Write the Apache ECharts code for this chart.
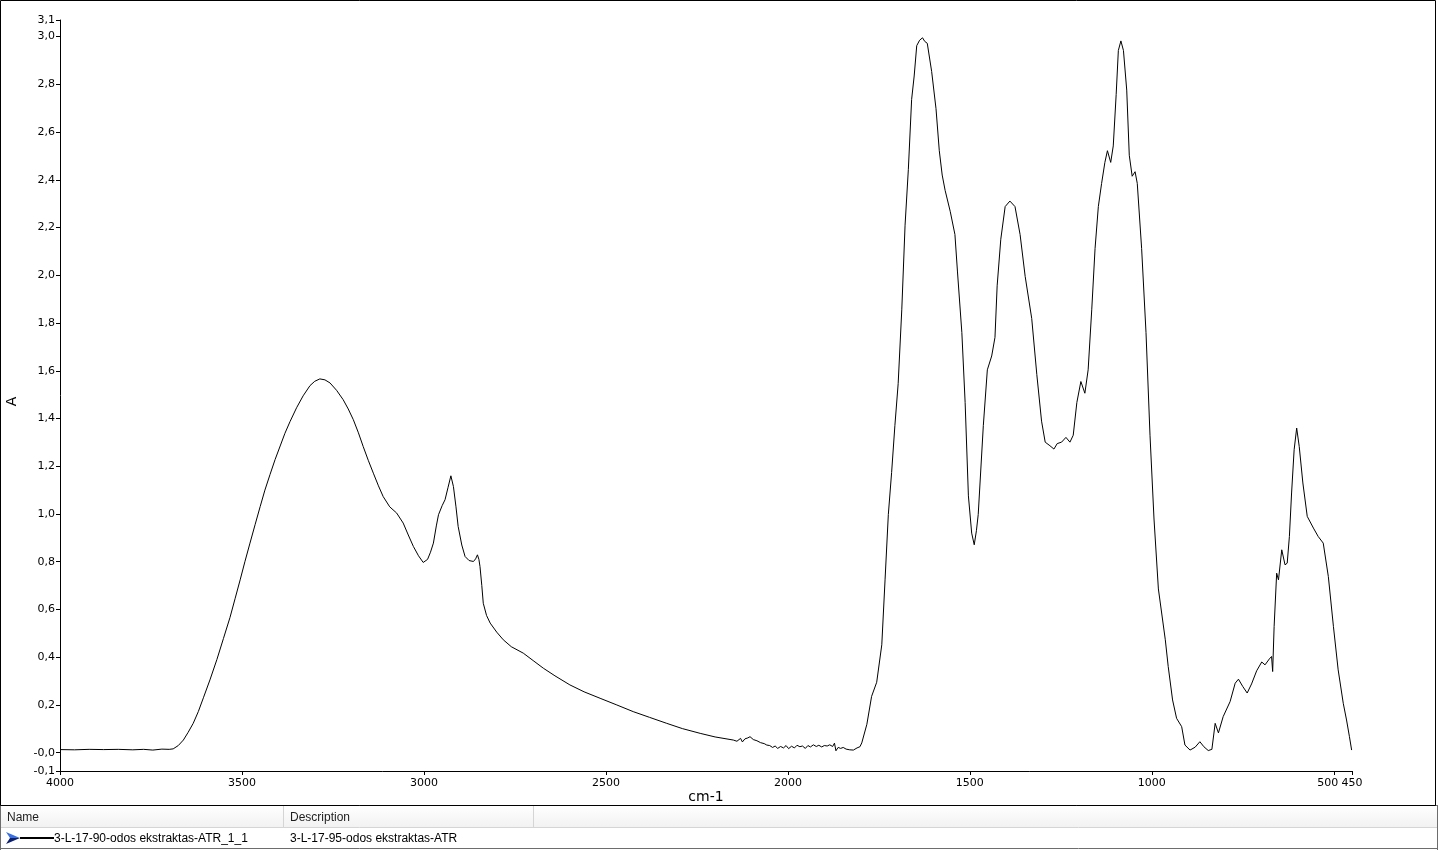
<!DOCTYPE html>
<html>
<head>
<meta charset="utf-8">
<script src="https://cdn.jsdelivr.net/npm/echarts@6/dist/echarts.min.js"></script>
<style>
html,body{margin:0;padding:0;background:#fff;}
#chart{width:1438px;height:850px;}
</style>
</head>
<body>
<div id="chart"></div>
<script>
// ---- data ----
const wavenumbers = [
4000,3960,3920,3880,3840,3800,3770,3745,3720,3700,3689,3675,3661,3648,3634,3620,3606,3588,3569,3551,
3533,3519,3505,3492,3478,3464,3450,3437,3423,3409,3395,3382,3368,3350,3332,3313,3300,3286,3272,3258,3240,
3222,3208,3194,3180,3167,3153,3139,3125,3112,3094,3075,3057,3043,3029,3015,3002,2990,2982,2974,2966,
2960,2950,2942,2934,2926,2919,2912,2906,2896,2887,2876,2864,2858,2853,2849,2846,2841,2837,2828,2818,
2800,2782,2760,2727,2700,2672,2640,2599,2560,2516,2470,2425,2380,2333,2290,2241,2200,
2150,2140,2130,2125,2118,2110,2104,2095,2085,2075,2065,2058,2050,2042,2035,2028,2020,2012,2005,1998,
1990,1982,1975,1967,1960,1952,1945,1938,1930,1922,1915,1907,1900,1892,1885,1877,1872,1868,1862,1855,
1848,1840,1830,1820,1810,1802,
1797,1783,1770,1756,1742,1733,1724,1715,1706,1697,1687,1678,1669,1660,1653,1646,1638,1630,1624,1617,
1605,1593,1584,1576,1568,1554,1541,1534,1522,1513,1504,1495,1488,1482,1477,1463,1452,1440,1431,1425,
1415,1403,1390,1376,1362,1348,1330,1316,1303,1293,1280,1269,1260,1248,1236,1225,1216,1206,1195,1184,
1175,1165,1156,1147,1138,1129,1122,1113,1106,1098,1092,1085,1078,1069,1062,1054,1046,1040,1028,1016,
1005,994,982,963,955,943,932,918,909,895,881,868,857,845,835,826,817,804,785,771,
762,750,738,726,712,698,689,677,671,668,664,657,652,643,634,628,622,616,609,602,
595,585,573,556,543,529,515,501,488,474,465,457,451
];
const absorbance = [
0.013,0.012,0.014,0.013,0.014,0.012,0.014,0.011,0.015,0.014,0.016,0.030,0.053,0.085,0.123,0.172,0.230,0.305,0.390,0.478,
0.566,0.645,0.724,0.800,0.878,0.955,1.031,1.100,1.165,1.228,1.285,1.338,1.387,1.445,1.495,1.538,1.556,1.566,1.562,1.549,1.518,
1.479,1.440,1.395,1.340,1.283,1.225,1.171,1.118,1.073,1.030,1.004,0.962,0.912,0.864,0.825,0.797,0.810,0.840,0.878,0.950,
0.997,1.035,1.060,1.110,1.160,1.115,1.030,0.948,0.870,0.822,0.805,0.801,0.812,0.829,0.810,0.780,0.700,0.626,0.575,0.543,
0.505,0.473,0.444,0.417,0.386,0.354,0.322,0.284,0.255,0.228,0.200,0.172,0.148,0.123,0.101,0.081,0.066,
0.053,0.048,0.060,0.045,0.058,0.062,0.067,0.055,0.050,0.042,0.038,0.032,0.030,0.022,0.028,0.018,0.026,0.020,0.030,0.017,
0.027,0.020,0.031,0.025,0.028,0.018,0.030,0.024,0.033,0.026,0.031,0.024,0.030,0.028,0.033,0.026,0.040,0.008,0.022,0.018,
0.022,0.015,0.012,0.011,0.020,0.025,
0.041,0.119,0.236,0.295,0.452,0.724,0.998,1.174,1.370,1.546,1.858,2.210,2.444,2.737,2.835,2.962,2.985,2.995,2.980,2.972,
2.854,2.698,2.522,2.420,2.356,2.268,2.171,2.014,1.760,1.467,1.076,0.920,0.871,0.930,0.998,1.370,1.604,1.662,1.740,1.956,
2.151,2.288,2.311,2.288,2.171,1.995,1.819,1.584,1.389,1.301,1.286,1.272,1.295,1.301,1.321,1.301,1.330,1.467,1.555,1.506,
1.604,1.858,2.112,2.288,2.385,2.473,2.522,2.473,2.542,2.757,2.942,2.982,2.942,2.776,2.503,2.415,2.434,2.385,2.112,1.760,
1.330,0.979,0.686,0.473,0.361,0.221,0.144,0.109,0.032,0.011,0.023,0.046,0.025,0.009,0.014,0.123,0.083,0.151,0.214,0.291,
0.308,0.277,0.250,0.288,0.343,0.380,0.368,0.393,0.403,0.340,0.528,0.752,0.724,0.850,0.787,0.794,0.906,1.088,1.269,1.360,
1.283,1.130,0.990,0.941,0.906,0.878,0.738,0.528,0.347,0.207,0.137,0.067,0.011
];
const xTickValues = [4000,3500,3000,2500,2000,1500,1000,500,450];
const xTickLabels = ['4000','3500','3000','2500','2000','1500','1000','500','450'];
const yTickValues = [-0.0767,0,0.2,0.4,0.6,0.8,1.0,1.2,1.4,1.6,1.8,2.0,2.2,2.4,2.6,2.8,3.0,3.0696];
const yTickLabels = ['-0,1','-0,0','0,2','0,4','0,6','0,8','1,0','1,2','1,4','1,6','1,8','2,0','2,2','2,4','2,6','2,8','3,0','3,1'];
const xAxisName = 'cm-1';
const yAxisName = 'A';
const tableHeaders = ['Name','Description'];
const seriesName = '3-L-17-90-odos ekstraktas-ATR_1_1';
const seriesDescription = '3-L-17-95-odos ekstraktas-ATR';

const points = wavenumbers.map((w,i)=>[w, absorbance[i]]);

function labelFor(values, labels, v){
  let best = 0, bd = Infinity;
  values.forEach((t,i)=>{ const d = Math.abs(t - v); if (d < bd){ bd = d; best = i; } });
  return labels[best];
}

const chart = echarts.init(document.getElementById('chart'), null, {renderer:'canvas'});
const axisFont = 'DejaVu Sans';
chart.setOption({
  animation:false,
  backgroundColor:'#fff',
  grid:{left:60, right:86, top:20, bottom:79, containLabel:false, outerBoundsMode:'none'},
  xAxis:{
    type:'value', inverse:true,
    min:xTickValues[xTickValues.length-1], max:xTickValues[0],
    name:xAxisName, nameLocation:'middle', nameGap:19, nameMoveOverlap:false,
    nameTextStyle:{fontFamily:axisFont, fontSize:14, color:'#000', verticalAlign:'top'},
    axisLine:{show:true, onZero:false, lineStyle:{color:'#000', width:1}},
    axisTick:{show:true, inside:false, length:4, customValues:xTickValues, lineStyle:{color:'#000'}},
    axisLabel:{
      customValues:xTickValues, margin:7,
      fontFamily:axisFont, fontSize:11, color:'#000',
      formatter:function(v){
        const s = labelFor(xTickValues, xTickLabels, v);
        return s === '500' ? '{s|' + s + '}' : s;
      },
      rich:{s:{fontFamily:axisFont, fontSize:11, color:'#000', padding:[0,12,0,0]}}
    },
    splitLine:{show:false}
  },
  yAxis:{
    type:'value',
    min:yTickValues[0], max:yTickValues[yTickValues.length-1],
    name:yAxisName, nameLocation:'middle', nameGap:41, nameRotate:90,
    nameTextStyle:{fontFamily:axisFont, fontSize:14, color:'#000', padding:[0,12,0,0]},
    axisLine:{show:true, onZero:false, lineStyle:{color:'#000', width:1}},
    axisTick:{show:true, inside:false, length:4, customValues:yTickValues, lineStyle:{color:'#000'}},
    axisLabel:{
      customValues:yTickValues, margin:5,
      fontFamily:axisFont, fontSize:11, color:'#000',
      formatter:function(v){ return labelFor(yTickValues, yTickLabels, v); }
    },
    splitLine:{show:false}
  },
  series:[{
    type:'line', name:seriesName, data:points,
    showSymbol:false, symbol:'none', smooth:false,
    lineStyle:{color:'#000', width:1}, clip:true
  }],
  graphic:[
    {type:'rect', shape:{x:0.5, y:0.5, width:1435, height:805}, style:{fill:'none', stroke:'#000', lineWidth:1}, z:10},
    {type:'rect', shape:{x:0, y:806, width:1438, height:22},
      style:{fill:new echarts.graphic.LinearGradient(0,0,0,1,[{offset:0,color:'#ffffff'},{offset:1,color:'#f1f1f1'}])}},
    {type:'line', shape:{x1:0, y1:805.5, x2:1438, y2:805.5}, style:{stroke:'#6d6d6d', lineWidth:1}},
    {type:'line', shape:{x1:0, y1:827.5, x2:1438, y2:827.5}, style:{stroke:'#d5d5d5', lineWidth:1}},
    {type:'line', shape:{x1:0, y1:848.5, x2:1438, y2:848.5}, style:{stroke:'#6d6d6d', lineWidth:1}},
    {type:'line', shape:{x1:0.5, y1:805, x2:0.5, y2:850}, style:{stroke:'#6d6d6d', lineWidth:1}},
    {type:'line', shape:{x1:1437.5, y1:805, x2:1437.5, y2:850}, style:{stroke:'#6d6d6d', lineWidth:1}},
    {type:'line', shape:{x1:283.5, y1:806, x2:283.5, y2:827}, style:{stroke:'#d5d5d5', lineWidth:1}},
    {type:'line', shape:{x1:533.5, y1:806, x2:533.5, y2:827}, style:{stroke:'#d5d5d5', lineWidth:1}},
    {type:'text', x:7, y:818, style:{text:tableHeaders[0], fontFamily:'Liberation Sans', fontSize:12, fill:'#1e1e1e', verticalAlign:'middle'}},
    {type:'text', x:290, y:818, style:{text:tableHeaders[1], fontFamily:'Liberation Sans', fontSize:12, fill:'#1e1e1e', verticalAlign:'middle'}},
    {type:'polygon', shape:{points:[[6,832],[20,838],[10,838]]}, style:{fill:'#3a6ee0'}},
    {type:'polygon', shape:{points:[[10,838],[20,838],[6,844]]}, style:{fill:'#0b1f6e'}},
    {type:'line', shape:{x1:20, y1:838, x2:54, y2:838}, style:{stroke:'#000', lineWidth:2}},
    {type:'text', x:54, y:839, style:{text:seriesName, fontFamily:'Liberation Sans', fontSize:12, fill:'#000', verticalAlign:'middle'}},
    {type:'text', x:290, y:839, style:{text:seriesDescription, fontFamily:'Liberation Sans', fontSize:12, fill:'#000', verticalAlign:'middle'}}
  ]
});
</script>
</body>
</html>
